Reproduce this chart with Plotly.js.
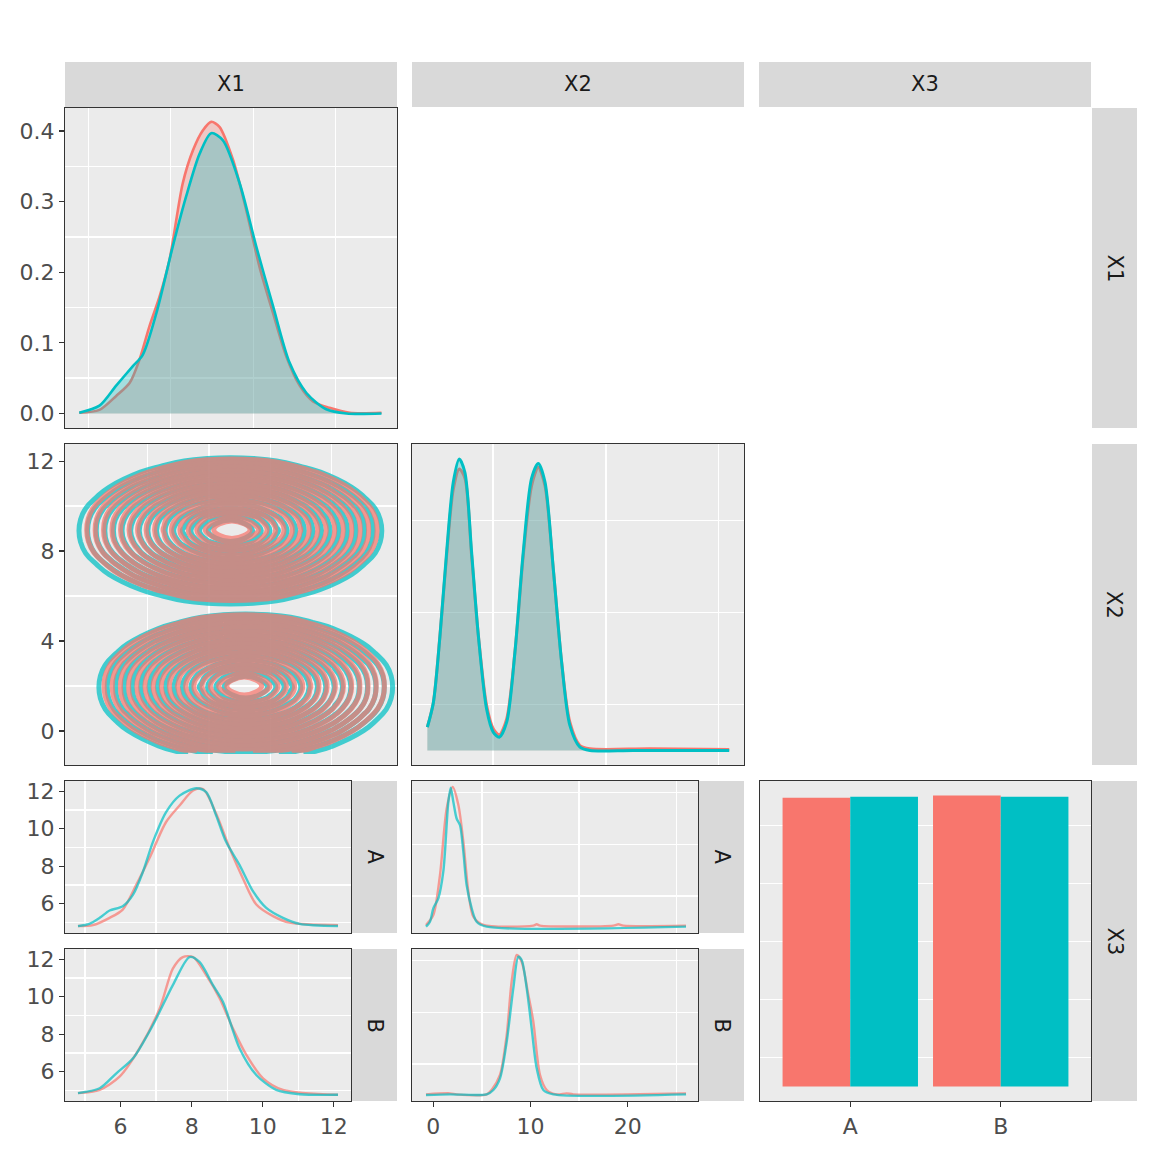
<!DOCTYPE html>
<html>
<head>
<meta charset="utf-8">
<script src="https://cdn.plot.ly/plotly-3.0.1.min.js"></script>
<style>html,body{margin:0;padding:0;background:#fff;}#chart{width:1152px;height:1152px;}</style>
</head>
<body>
<div id="chart"></div>
<script>
// ---------- labels ----------
const varNames = ['X1', 'X2', 'X3'];
const groupNames = ['A', 'B'];
const barCats = ['A', 'B'];

// ---------- X1 density (diagonal, row 1) ----------
const dX1RedX = [4.78, 5.27, 5.67, 6.00, 6.24, 6.48, 6.73, 6.97, 7.29, 7.54, 7.78, 7.98, 8.18, 8.51, 8.83, 9.15, 9.48, 9.80, 10.13, 10.45, 10.85, 11.34, 12.11];
const dX1RedY = [0.001, 0.005, 0.0245, 0.043, 0.076, 0.123, 0.166, 0.218, 0.326, 0.373, 0.401, 0.413, 0.406, 0.359, 0.288, 0.208, 0.142, 0.081, 0.039, 0.017, 0.008, 0.001, 0.001];
const dX1CyanX = [4.78, 5.27, 5.67, 6.08, 6.32, 6.65, 7.05, 7.37, 7.70, 7.98, 8.26, 8.67, 9.07, 9.48, 9.88, 10.29, 10.77, 11.26, 12.11];
const dX1CyanY = [0.001, 0.011, 0.039, 0.067, 0.083, 0.142, 0.237, 0.307, 0.368, 0.397, 0.387, 0.326, 0.237, 0.152, 0.072, 0.029, 0.006, 0.0, 0.0];

// ---------- X2 density (diagonal, row 2) ----------
const dX2RedX = [-0.83, -0.30, 0.29, 0.88, 1.47, 2.00, 2.50, 3.09, 3.69, 4.42, 5.01, 5.55, 6.20, 6.93, 7.67, 8.41, 9.00, 9.59, 10.33, 11.07, 11.80, 12.69, 13.58, 18.90, 25.92];
const dX2RedY = [0.0127, 0.026, 0.0625, 0.106, 0.142, 0.153, 0.148, 0.106, 0.0625, 0.0245, 0.0118, 0.0085, 0.0172, 0.0534, 0.106, 0.144, 0.154, 0.144, 0.0987, 0.048, 0.0154, 0.0027, 0.0009, 0.0009, 0.0005];
const dX2CyanX = [-0.83, -0.30, 0.29, 0.88, 1.47, 2.00, 2.50, 3.09, 3.69, 4.42, 5.01, 5.55, 6.20, 6.93, 7.67, 8.41, 9.00, 9.59, 10.33, 11.07, 11.80, 12.69, 13.58, 17.40, 25.92];
const dX2CyanY = [0.0127, 0.026, 0.0625, 0.108, 0.146, 0.1585, 0.151, 0.108, 0.0625, 0.0226, 0.010, 0.0072, 0.0154, 0.0534, 0.108, 0.148, 0.156, 0.146, 0.0987, 0.048, 0.0136, 0.0018, 0.0, 0.0, 0.0];

// ---------- X1 vs X2 2-D density (row 2, col 1) ----------
// relative density surface of one mode, sampled on a 15 x 15 grid
const blobZ = [
  [-0.70, -0.56, -0.44, -0.34, -0.28, -0.24, -0.21, -0.20, -0.21, -0.24, -0.28, -0.34, -0.44, -0.56, -0.70],
  [-0.56, -0.41, -0.28, -0.17, -0.10, -0.04, -0.01, 0.00, -0.01, -0.04, -0.10, -0.17, -0.28, -0.41, -0.56],
  [-0.44, -0.28, -0.13, 0.00, 0.08, 0.15, 0.19, 0.20, 0.19, 0.15, 0.08, 0.00, -0.13, -0.28, -0.44],
  [-0.34, -0.17, 0.00, 0.15, 0.25, 0.33, 0.38, 0.40, 0.38, 0.33, 0.25, 0.15, 0.00, -0.17, -0.34],
  [-0.28, -0.10, 0.08, 0.25, 0.36, 0.46, 0.53, 0.55, 0.53, 0.46, 0.36, 0.25, 0.08, -0.10, -0.28],
  [-0.24, -0.04, 0.15, 0.33, 0.46, 0.58, 0.66, 0.70, 0.66, 0.58, 0.46, 0.33, 0.15, -0.04, -0.24],
  [-0.21, -0.01, 0.19, 0.38, 0.53, 0.66, 0.79, 0.85, 0.79, 0.66, 0.53, 0.38, 0.19, -0.01, -0.21],
  [-0.20, 0.00, 0.20, 0.40, 0.55, 0.70, 0.85, 1.00, 0.85, 0.70, 0.55, 0.40, 0.20, 0.00, -0.20],
  [-0.21, -0.01, 0.19, 0.38, 0.53, 0.66, 0.79, 0.85, 0.79, 0.66, 0.53, 0.38, 0.19, -0.01, -0.21],
  [-0.24, -0.04, 0.15, 0.33, 0.46, 0.58, 0.66, 0.70, 0.66, 0.58, 0.46, 0.33, 0.15, -0.04, -0.24],
  [-0.28, -0.10, 0.08, 0.25, 0.36, 0.46, 0.53, 0.55, 0.53, 0.46, 0.36, 0.25, 0.08, -0.10, -0.28],
  [-0.34, -0.17, 0.00, 0.15, 0.25, 0.33, 0.38, 0.40, 0.38, 0.33, 0.25, 0.15, 0.00, -0.17, -0.34],
  [-0.44, -0.28, -0.13, 0.00, 0.08, 0.15, 0.19, 0.20, 0.19, 0.15, 0.08, 0.00, -0.13, -0.28, -0.44],
  [-0.56, -0.41, -0.28, -0.17, -0.10, -0.04, -0.01, 0.00, -0.01, -0.04, -0.10, -0.17, -0.28, -0.41, -0.56],
  [-0.70, -0.56, -0.44, -0.34, -0.28, -0.24, -0.21, -0.20, -0.21, -0.24, -0.28, -0.34, -0.44, -0.56, -0.70]
];
// lower mode is cut at the data edge (X2 about -1): its first sampled row
const lowEdgeRow = [-0.50, -0.35, -0.20, -0.08, -0.01, 0.05, 0.09, 0.10, 0.09, 0.05, -0.01, -0.08, -0.20, -0.35, -0.50];
// grid positions of the upper mode (X2 around 9) and the lower mode (X2 around 2)
const upRedX = [3.85, 4.83, 5.81, 6.80, 7.54, 8.27, 9.01, 9.75, 10.49, 11.23, 11.96, 12.70, 13.69, 14.67, 15.65];
const upRedY = [5.01, 5.67, 6.33, 6.98, 7.47, 7.97, 8.46, 8.95, 9.44, 9.93, 10.43, 10.92, 11.57, 12.23, 12.89];
const upCyanX = [3.70, 4.70, 5.70, 6.70, 7.45, 8.20, 8.95, 9.70, 10.45, 11.20, 11.95, 12.70, 13.70, 14.70, 15.70];
const upCyanY = [4.94, 5.60, 6.26, 6.92, 7.42, 7.91, 8.41, 8.90, 9.40, 9.89, 10.39, 10.88, 11.54, 12.20, 12.86];
const loRedX = [4.45, 5.40, 6.35, 7.30, 8.01, 8.72, 9.44, 10.15, 10.86, 11.58, 12.29, 13.00, 13.95, 14.90, 15.85];
const loRedY = [-0.97, -0.64, 0.02, 0.51, 1.01, 1.50, 2.00, 2.50, 2.99, 3.49, 3.98, 4.64, 5.30, 5.96];
const loCyanX = [4.38, 5.35, 6.32, 7.29, 8.02, 8.75, 9.47, 10.20, 10.93, 11.66, 12.38, 13.11, 14.08, 15.05, 16.02];
const loCyanY = [-1.02, -0.69, -0.03, 0.46, 0.96, 1.45, 1.95, 2.45, 2.94, 3.44, 3.93, 4.59, 5.25, 5.91];

// ---------- row 3: X1 by group (scaled densities) ----------
const aX1RedX = [4.80, 5.22, 5.69, 6.06, 6.44, 6.81, 7.28, 7.66, 8.04, 8.32, 8.69, 9.07, 9.44, 9.82, 10.29, 10.76, 12.12];
const aX1RedY = [4.80, 4.85, 5.24, 5.68, 7.00, 8.42, 10.36, 11.24, 12.04, 12.12, 10.80, 8.95, 7.36, 5.95, 5.33, 4.98, 4.85];
const aX1CyanX = [4.80, 5.12, 5.41, 5.69, 6.06, 6.35, 6.63, 6.91, 7.28, 7.66, 8.13, 8.41, 8.69, 8.97, 9.35, 9.73, 10.10, 10.57, 11.04, 12.12];
const aX1CyanY = [4.80, 4.92, 5.24, 5.63, 5.86, 6.48, 7.71, 9.30, 10.89, 11.77, 12.16, 11.95, 10.71, 9.30, 8.06, 6.65, 5.77, 5.24, 4.92, 4.80];
const bX1RedX = [4.80, 5.41, 5.97, 6.53, 7.10, 7.47, 7.75, 8.04, 8.41, 8.79, 9.16, 9.54, 10.01, 10.57, 12.12];
const bX1RedY = [4.85, 5.02, 5.73, 7.24, 9.37, 11.50, 12.12, 12.12, 11.15, 9.91, 8.31, 6.89, 5.64, 5.02, 4.76];
const bX1CyanX = [4.80, 5.41, 5.88, 6.35, 6.91, 7.47, 7.94, 8.22, 8.60, 8.88, 9.35, 9.82, 10.38, 11.04, 12.12];
const bX1CyanY = [4.85, 5.11, 5.91, 6.71, 8.49, 10.62, 12.12, 11.86, 10.62, 9.73, 7.24, 5.82, 5.02, 4.79, 4.76];

// ---------- row 3: X2 by group (scaled densities) ----------
const aX2RedX = [-0.75, 0.00, 0.69, 1.38, 2.00, 2.58, 3.09, 3.61, 4.12, 5.15, 10.29, 10.64, 10.98, 18.52, 19.04, 19.55, 26.00];
const aX2RedY = [-0.62, 1.31, 9.06, 21.96, 26.09, 22.60, 15.50, 5.83, 0.99, -0.62, -0.75, -0.49, -0.75, -0.75, -0.49, -0.75, -0.75];
const aX2CyanX = [-0.75, -0.34, 0.00, 0.52, 1.03, 1.55, 1.79, 2.06, 2.40, 2.75, 3.09, 3.43, 3.95, 4.46, 5.49, 26.00];
const aX2CyanY = [-0.94, 0.02, 2.60, 4.54, 9.70, 23.25, 25.96, 23.25, 20.00, 18.73, 13.57, 7.12, 2.60, 0.02, -0.94, -0.94];
const bX2RedX = [-0.75, 1.72, 2.41, 5.49, 6.00, 6.86, 7.55, 8.06, 8.58, 9.09, 9.78, 10.29, 10.98, 11.67, 12.70, 13.72, 14.41, 26.00];
const bX2RedY = [-0.88, -0.69, -0.88, -0.88, -0.04, 2.86, 10.60, 20.93, 26.09, 24.80, 18.35, 13.19, 2.86, -0.04, -0.88, -0.69, -0.88, -0.69];
const bX2CyanX = [-0.75, 1.72, 5.49, 6.18, 6.86, 7.55, 8.23, 8.75, 9.09, 9.61, 10.12, 10.64, 11.32, 12.35, 26.00];
const bX2CyanY = [-1.00, -0.88, -0.88, -0.04, 2.22, 9.31, 19.64, 25.77, 25.12, 19.64, 11.89, 4.15, -0.04, -0.88, -0.88];

// ---------- row 3, col 3: counts ----------
const barRed = [249, 251];
const barCyan = [250, 250];

// ---------- tick values ----------
const densTicks = [0, 0.1, 0.2, 0.3, 0.4];
const x1Ticks = [6, 8, 10, 12];
const x2Ticks = [0, 10, 20];
const contYTicks = [0, 4, 8, 12];
const rowYTicks = [6, 8, 10, 12];

// ================= drawing =================
const RED = '#F8766D', CYAN = '#00BFC4';
const RED_F = 'rgba(248,118,109,0.3)', CYAN_F = 'rgba(0,191,196,0.3)';
const W = 1152;
const dx = (a, b) => [a / W, b / W];
const dy = (t, b) => [1 - b / W, 1 - t / W];

const FONT = 'DejaVu Sans, Liberation Sans, sans-serif';
const FS = 22;
function ax(extra) {
  const base = {
    showline: true, mirror: true, linecolor: '#333333', linewidth: 1.2,
    zeroline: false, showgrid: false, ticks: '', showticklabels: false,
    fixedrange: true, ticklen: 5, tickwidth: 1.2, tickcolor: '#333333',
    tickfont: {family: FONT, size: FS, color: '#4D4D4D'},
    minor: {showgrid: true, gridcolor: '#FFFFFF', gridwidth: 1.3, ticks: ''}
  };
  const o = Object.assign({}, base, extra);
  if (extra.minor) o.minor = Object.assign({}, base.minor, extra.minor);
  return o;
}
const labeled = (vals) => ({ticks: 'outside', showticklabels: true, tickmode: 'array', tickvals: vals});

function line(x, y, xa, ya, color, width, opacity, fill) {
  const t = {type: 'scatter', mode: 'lines', x: x, y: y, xaxis: xa, yaxis: ya,
    line: {color: color, width: width, shape: 'spline', smoothing: 0.8},
    opacity: opacity, hoverinfo: 'skip', showlegend: false};
  if (fill) { t.fill = 'tozeroy'; t.fillcolor = fill; }
  return t;
}
function cont(x, y, z, color, start) {
  return {type: 'contour', x: x, y: y, z: z, xaxis: 'x2', yaxis: 'y2',
    contours: {coloring: 'none', start: start, end: 0.9, size: 0.056},
    line: {color: color, width: 5, smoothing: 1.3}, opacity: 0.72,
    showscale: false, hoverinfo: 'skip'};
}
const loZ = [lowEdgeRow].concat(blobZ.slice(2));

const traces = [
  line(dX1RedX, dX1RedY, 'x', 'y', RED, 2.6, 1, RED_F),
  line(dX1CyanX, dX1CyanY, 'x', 'y', CYAN, 2.6, 1, CYAN_F),
  cont(upCyanX, upCyanY, blobZ, CYAN, 0.015),
  cont(loCyanX, loCyanY, loZ, CYAN, 0.015),
  cont(upRedX, upRedY, blobZ, RED, 0.04),
  cont(loRedX, loRedY, loZ, RED, 0.04),
  line(dX2RedX, dX2RedY, 'x3', 'y3', RED, 3, 1, RED_F),
  line(dX2CyanX, dX2CyanY, 'x3', 'y3', CYAN, 3, 1, CYAN_F),
  line(aX1RedX, aX1RedY, 'x4', 'y4', RED, 2.4, 0.7),
  line(aX1CyanX, aX1CyanY, 'x4', 'y4', CYAN, 2.4, 0.7),
  line(bX1RedX, bX1RedY, 'x5', 'y5', RED, 2.4, 0.7),
  line(bX1CyanX, bX1CyanY, 'x5', 'y5', CYAN, 2.4, 0.7),
  line(aX2RedX, aX2RedY, 'x6', 'y6', RED, 2.4, 0.7),
  line(aX2CyanX, aX2CyanY, 'x6', 'y6', CYAN, 2.4, 0.7),
  line(bX2RedX, bX2RedY, 'x7', 'y7', RED, 2.4, 0.7),
  line(bX2CyanX, bX2CyanY, 'x7', 'y7', CYAN, 2.4, 0.7),
  {type: 'bar', x: barCats, y: barRed, xaxis: 'x8', yaxis: 'y8', marker: {color: RED}, hoverinfo: 'skip'},
  {type: 'bar', x: barCats, y: barCyan, xaxis: 'x8', yaxis: 'y8', marker: {color: CYAN}, hoverinfo: 'skip'}
];

const X1R = [4.434, 12.486], X2R = [-2.19, 27.23];
const m2 = {tick0: 1, dtick: 2}, m10 = {tick0: 5, dtick: 10};

const layout = {
  width: 1152, height: 1152,
  margin: {l: 0, r: 0, t: 0, b: 0, pad: 0},
  paper_bgcolor: '#FFFFFF', plot_bgcolor: '#EBEBEB',
  showlegend: false, barmode: 'group', bargap: 0.1, bargroupgap: 0,
  font: {family: FONT, size: FS, color: '#4D4D4D'},
  // row 1
  xaxis: ax({domain: dx(65, 397), anchor: 'y', range: X1R, minor: m2}),
  yaxis: ax(Object.assign({domain: dy(108, 428), anchor: 'x', range: [-0.0206, 0.4326], tickformat: '.1f',
    minor: {tickmode: 'array', tickvals: [0.05, 0.15, 0.25, 0.35]}}, labeled(densTicks))),
  // row 2
  xaxis2: ax({domain: dx(65, 397), anchor: 'y2', range: [4.32, 15.12], minor: m2}),
  yaxis2: ax(Object.assign({domain: dy(444, 765), anchor: 'x2', range: [-1.51, 12.76],
    minor: {tickmode: 'array', tickvals: [2, 6, 10]}}, labeled(contYTicks))),
  xaxis3: ax({domain: dx(412, 744), anchor: 'y3', range: X2R, minor: m10}),
  yaxis3: ax({domain: dy(444, 765), anchor: 'x3', range: [-0.0079, 0.1666],
    minor: {tickmode: 'array', tickvals: [0.025, 0.075, 0.125]}}),
  // row 3, col 1
  xaxis4: ax({domain: dx(65, 351), anchor: 'y4', range: X1R, minor: m2}),
  yaxis4: ax(Object.assign({domain: dy(781, 933), anchor: 'x4', range: [4.43, 12.55],
    minor: {tickmode: 'array', tickvals: [5, 7, 9, 11]}}, labeled(rowYTicks))),
  xaxis5: ax(Object.assign({domain: dx(65, 351), anchor: 'y5', range: X1R,
    minor: {tickmode: 'array', tickvals: [5, 7, 9, 11]}}, labeled(x1Ticks))),
  yaxis5: ax(Object.assign({domain: dy(949, 1101), anchor: 'x5', range: [4.43, 12.55],
    minor: {tickmode: 'array', tickvals: [5, 7, 9, 11]}}, labeled(rowYTicks))),
  // row 3, col 2
  xaxis6: ax({domain: dx(412, 698), anchor: 'y6', range: X2R, minor: m10}),
  yaxis6: ax({domain: dy(781, 933), anchor: 'x6', range: [-2.17, 27.26], minor: m10}),
  xaxis7: ax(Object.assign({domain: dx(412, 698), anchor: 'y7', range: X2R,
    minor: {tickmode: 'array', tickvals: [5, 15, 25]}}, labeled(x2Ticks))),
  yaxis7: ax({domain: dy(949, 1101), anchor: 'x7', range: [-2.17, 27.26], minor: m10}),
  // row 3, col 3
  xaxis8: ax({domain: dx(760, 1091), anchor: 'y8', type: 'category', range: [-0.6, 1.6],
    ticks: 'outside', showticklabels: true, minor: {showgrid: false}}),
  yaxis8: ax({domain: dy(781, 1101), anchor: 'x8', range: [-12.55, 263.55],
    minor: {tickmode: 'array', tickvals: [25, 75, 125, 175, 225]}}),
  shapes: [],
  annotations: []
};

// strips
const colSpans = [[65, 397], [412, 744], [759, 1091]];
const rowSpans = [[108, 428], [444, 765], [781, 1101]];
const subRowSpans = [[781, 933], [949, 1101]];
const subStripX = [[352, 397], [699, 744]];
function strip(x0, x1, y0, y1, text, rot) {
  layout.shapes.push({type: 'rect', xref: 'paper', yref: 'paper',
    x0: x0 / W, x1: x1 / W, y0: 1 - y1 / W, y1: 1 - y0 / W,
    fillcolor: '#D9D9D9', line: {width: 0}, layer: 'below'});
  layout.annotations.push({xref: 'paper', yref: 'paper', x: (x0 + x1) / 2 / W, y: 1 - (y0 + y1) / 2 / W,
    text: text, showarrow: false, xanchor: 'center', yanchor: 'middle', textangle: rot ? 90 : 0,
    font: {family: FONT, size: 21, color: '#1A1A1A'}});
}
varNames.forEach((n, i) => strip(colSpans[i][0], colSpans[i][1], 62, 107, n, false));
varNames.forEach((n, i) => strip(1092, 1137, rowSpans[i][0], rowSpans[i][1], n, true));
subStripX.forEach(sx => groupNames.forEach((g, j) => strip(sx[0], sx[1], subRowSpans[j][0], subRowSpans[j][1], g, true)));

Plotly.newPlot('chart', traces, layout, {staticPlot: true, displayModeBar: false});
</script>
</body>
</html>
